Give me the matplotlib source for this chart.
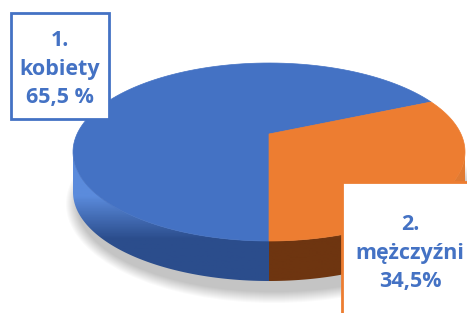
import numpy as np
import matplotlib.pyplot as plt
from matplotlib.patches import Polygon, Rectangle, Ellipse
from matplotlib.colors import LinearSegmentedColormap

# dane
kategorie = ['kobiety', 'mężczyźni']
procenty = [65.5, 34.5]
etykiety = ['1.\nkobiety\n65,5 %', '2.\nmężczyźni\n34,5%']
kolory = ['#4472C4', '#ED7D31']
kolory_bok = [('#5b8bdc', '#2b4d8c'), ('#e07a32', '#6e3510')]

plt.rcParams['font.family'] = ['Open Sans', 'DejaVu Sans']

fig = plt.figure(figsize=(4.67, 3.13), dpi=100)
ax = fig.add_axes([0, 0, 1, 1])
ax.set_xlim(0, 467)
ax.set_ylim(313, 0)
ax.axis('off')

# geometria tortu (w pikselach)
cx, cy, a, b = 269, 152, 196, 89
vy = 134          # wierzchołek (perspektywa)
h = 40            # grubość

def arc(t0, t1, dy=0, n=120):
    t = np.radians(np.linspace(t0, t1, n))
    return np.column_stack([cx + a * np.cos(t), cy - b * np.sin(t) + dy])

# cień
for i in range(12):
    ax.add_patch(Ellipse((cx + 5, cy + h + 12), 2 * a + 24 - 2 * i, 2 * b + 20 - 2 * i,
                         color='#000000', alpha=0.018, lw=0, zorder=0))

# kąty wycinków: mężczyźni od dołu przeciwnie do wskazówek zegara
kat = np.array(procenty) / 100 * 360
start_m = -90
zakresy = [(start_m + kat[1], start_m + 360), (start_m, start_m + kat[1])]

# boki (widoczna przednia połowa)
grad = np.linspace(0, 1, 100).reshape(-1, 1)
for (t0, t1), (c1, c2) in zip(zakresy, kolory_bok):
    if t0 < 0:
        lo, hi = t0, min(t1, 0)
    else:
        lo, hi = max(t0, 180), min(t1, 360)
    if hi <= lo:
        continue
    gora = arc(lo, hi)
    dol = arc(hi, lo, dy=h)
    poly = Polygon(np.vstack([gora, dol]), closed=True, facecolor='none', edgecolor='none')
    ax.add_patch(poly)
    cmap = LinearSegmentedColormap.from_list('b', [c1, c1, c2, c2])
    im = ax.imshow(grad, cmap=cmap, extent=[cx - a - 2, cx + a + 2, cy + b + h + 2, cy],
                   aspect='auto', zorder=1)
    im.set_clip_path(poly)

# góra
for (t0, t1), kol in zip(zakresy, kolory):
    pts = np.vstack([[cx, vy], arc(t0, t1), [cx, vy]])
    ax.add_patch(Polygon(pts, closed=True, facecolor=kol, edgecolor=kol, lw=0.5, zorder=2))

# etykiety
ax.add_patch(Rectangle((11, 13), 98, 106, facecolor='white', edgecolor='#4472C4', lw=2, zorder=5))
ax.text(60, 69, etykiety[0], ha='center', va='center', fontsize=15.5, fontweight='bold',
        color='#4472C4', linespacing=1.45, zorder=6)

ax.add_patch(Rectangle((342, 182), 140, 140, facecolor='white', edgecolor='#ED7D31', lw=2, zorder=5))
ax.text(410, 253, etykiety[1], ha='center', va='center', fontsize=15.5, fontweight='bold',
        color='#4472C4', linespacing=1.45, zorder=6)

fig.savefig('out.png', dpi=100)
